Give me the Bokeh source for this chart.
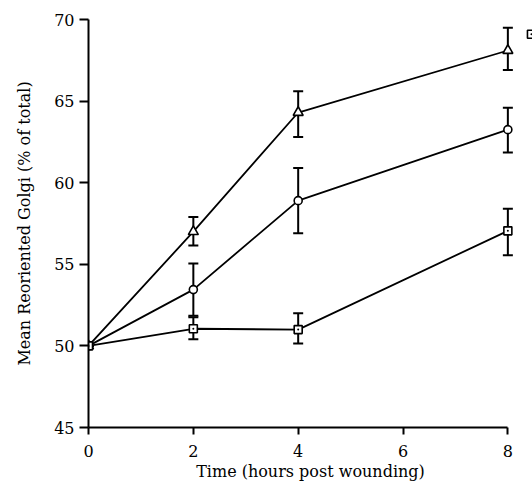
from bokeh.plotting import figure
from bokeh.models import ColumnDataSource, Whisker, FixedTicker, TeeHead
from bokeh.embed import file_html
from bokeh.resources import INLINE

# Data
time_h = [0, 2, 4, 8]
tri_mean = [50.0, 57.0, 64.3, 68.1]
tri_lower = [50.0, 56.15, 62.8, 66.9]
tri_upper = [50.0, 57.9, 65.6, 69.5]
circ_mean = [50.0, 53.45, 58.9, 63.25]
circ_lower = [50.0, 51.85, 56.9, 61.85]
circ_upper = [50.0, 55.05, 60.9, 64.6]
sq_mean = [50.0, 51.05, 51.0, 57.05]
sq_lower = [50.0, 50.4, 50.15, 55.55]
sq_upper = [50.0, 51.75, 52.0, 58.4]
x_ticks = [0, 2, 4, 6, 8]
y_ticks = [45, 50, 55, 60, 65, 70]
legend_x = [8.45]
legend_y = [69.1]

FONT = "DejaVu Serif"

p = figure(width=532, height=484, x_range=(0, 8.47), y_range=(45, 70),
           output_backend="svg", toolbar_location=None,
           min_border_left=88, min_border_right=0, min_border_top=19,
           min_border_bottom=57)
p.outline_line_color = None
p.grid.visible = False
p.background_fill_color = "white"

for ax in (p.xaxis[0], p.yaxis[0]):
    ax.axis_line_width = 2
    ax.axis_line_color = "black"
    ax.major_tick_line_width = 2
    ax.major_tick_line_color = "black"
    ax.major_tick_in = 0
    ax.minor_tick_line_color = None
    ax.major_label_text_font = FONT
    ax.major_label_text_font_size = "16px"
    ax.major_label_text_color = "black"
    ax.axis_label_text_font = FONT
    ax.axis_label_text_font_size = "16px"
    ax.axis_label_text_font_style = "normal"
    ax.axis_label_text_color = "black"

p.xaxis.ticker = FixedTicker(ticks=x_ticks)
p.yaxis.ticker = FixedTicker(ticks=y_ticks)
p.xaxis.bounds = (0, 8)
p.xaxis.major_tick_out = 7
p.yaxis.major_tick_out = 9
p.xaxis.major_label_standoff = 10
p.yaxis.major_label_standoff = 5
p.xaxis.axis_label = "Time (hours post wounding)"
p.yaxis.axis_label = "Mean Reoriented Golgi (% of total)"
p.xaxis.axis_label_standoff = 2
p.yaxis.axis_label_standoff = 17

series = [
    (tri_mean, tri_lower, tri_upper, "triangle", 10),
    (circ_mean, circ_lower, circ_upper, "circle", 8),
    (sq_mean, sq_lower, sq_upper, "square_dot", 8),
]

for mean, lo, hi, marker, size in series:
    src = ColumnDataSource(dict(x=time_h, y=mean, lo=lo, hi=hi))
    w = Whisker(source=src, base="x", lower="lo", upper="hi",
                line_color="black", line_width=2,
                upper_head=TeeHead(size=10, line_width=2, line_color="black"),
                lower_head=TeeHead(size=10, line_width=2, line_color="black"))
    p.add_layout(w)
    p.line("x", "y", source=src, line_color="black", line_width=1.8)
    p.scatter("x", "y", source=src, marker=marker, size=size,
              fill_color="white", line_color="black", line_width=1.6)

p.scatter(legend_x, legend_y, marker="square_dot", size=8,
          fill_color="white", line_color="black", line_width=1.6)

open("out.html", "w").write(file_html(p, INLINE))
